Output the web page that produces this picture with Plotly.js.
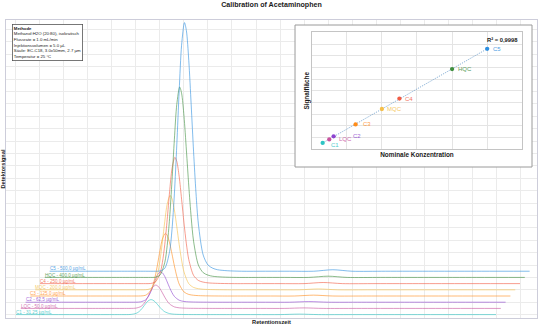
<!DOCTYPE html>
<html><head><meta charset="utf-8">
<script src="https://cdn.plot.ly/plotly-3.0.1.min.js"></script>
<style>html,body{margin:0;padding:0;background:#fff}#chart{width:539px;height:325px}</style>
</head><body><div id="chart"></div>
<script>
// ---------- data ----------
const levels = ['C1','LQC','C2','C3','MQC','C4','HQC','C5'];
const concentrations = [31.25, 50, 62.5, 125, 200, 250, 400, 500];   // µg/mL
const peakAreas = [131, 205, 272, 528, 858, 1082, 1715, 2150];       // signal area
const r2Label = 'R² = 0,9998';
const methodLines = ['Methanol:H2O (20:80), isokratisch','Flussrate = 1.0 mL/min','Injektionsvolumen = 5.0 µL','Säule: EC-C18, 3.0x50mm, 2.7 µm','Temperatur = 25 °C'];

const retentionTime = [0,0.5,1.0,1.5,2.0,2.2,2.3,2.4,2.5,2.55,2.6,2.65,2.7,2.75,2.81,2.85,2.9,2.95,3.0,3.05,3.1,3.2,3.3,3.4,3.5,3.7,4.0,4.5,5.0,5.5,5.9,6.3,7.0,8.0,9.0,10.0];
const sigC1  = [0,0,0,0,0,0,0.1,1.5,9.6,20.2,37.6,61.5,87.8,110.0,121,117.1,102.5,80.9,58.1,38.1,23.0,7.9,3.0,1.5,0.7,0.2,0,0,0,0,4,0,0,0,0,0];
const sigLQC = [0,0,0,0,0,0,0.2,2.3,14.9,31.4,58.5,95.5,136.5,170.9,188,182.0,159.2,125.8,90.2,59.2,35.7,12.2,4.7,2.3,1.1,0.4,0,0,0,0,4,0,0,0,0,0];
const sigC2  = [0,0,0,0,0,0,0.2,2.9,19.4,40.9,76.2,124.5,177.9,222.7,245,237.2,207.5,163.9,117.6,77.2,46.6,15.9,6.1,2.9,1.5,0.5,0,0,0,0,5,0,0,0,0,0];
const sigC3  = [0,0,0,0,0,0,0.5,6.1,40.0,84.5,157.4,257.0,367.4,460.0,506,489.8,428.6,338.5,242.9,159.4,96.1,32.9,12.7,6.1,3.0,1.0,0,0,0,0,7,0,0,0,0,0];
const sigMQC = [0,0,0,0,0,0,0.8,9.1,60.1,127.1,236.7,386.6,552.5,691.7,761,736.6,644.6,509.1,365.3,239.7,144.6,49.5,19.0,9.1,4.6,1.5,0,0,0,0,7,0,0,0,0,0];
const sigC4  = [0,0,0,0,0,0,1.0,12.2,80.5,170.2,316.9,517.7,739.8,926.3,1019,986.4,863.1,681.7,489.1,321.0,193.6,66.2,25.5,12.2,6.1,2.0,0,0,0,0,9,0,0,0,0,0];
const sigHQC = [0,0,0,0,0,0,1.5,18.4,121.3,256.5,477.7,780.3,1115.1,1396.2,1536,1486.8,1301.0,1027.6,737.3,483.8,291.8,99.8,38.4,18.4,9.2,3.1,0,0,0,0,10,0,0,0,0,0];
const sigC5  = [0,0,0,0,0,0,2.0,24.1,158.5,335.0,623.9,1019.0,1456.4,1823.5,2006,1941.8,1699.1,1342.0,962.9,631.9,381.1,130.4,50.2,24.1,12.0,4.0,0,0,0,0,12,0,0,0,0,0];
const signals = [sigC1, sigLQC, sigC2, sigC3, sigMQC, sigC4, sigHQC, sigC5];

// ---------- styles ----------
const colors = ['#2EC4C4','#C8539F','#8E44D0','#FF8C1A','#F5BF4A','#F25C45','#3F8F3F','#2E8FE0'];
const stepX = 0.1, stepY = 50;           // waterfall offsets
const labelShift = {C1:[7,-2], LQC:[9,0], C2:[18.5,0], C3:[6,0], MQC:[3.7,0], C4:[5,0], HQC:[4.7,0], C5:[5,0]};
const FONT = 'Liberation Sans, Arial, sans-serif';
const XR = [-0.208, 10.854], YR = [-27.4, 2377];
const insetBox = {x0:0.5443, x1:0.9906, y0:0.5067, y1:0.9832};   // fractions of main plot area

function fmtConc(c){ return (Number.isInteger(c) ? c.toFixed(1) : String(c)).replace('.', ','); }
function fx(f){ return XR[0] + f*(XR[1]-XR[0]); }
function fy(f){ return YR[0] + f*(YR[1]-YR[0]); }

const traces = [];
const annotations = [];
levels.forEach((lv, i) => {
  traces.push({
    type:'scatter', mode:'lines', xaxis:'x', yaxis:'y',
    x: retentionTime.map(t => t + i*stepX),
    y: signals[i].map(v => v + i*stepY),
    line:{color:colors[i], width:1, shape:'spline', smoothing:0.8},
    opacity:0.6, hoverinfo:'skip', showlegend:false
  });
  annotations.push({
    xref:'x', yref:'y', x: i*stepX, y: i*stepY, xanchor:'left', yanchor:'bottom',
    xshift:-1, yshift:-1.2, showarrow:false, borderpad:0,
    text: lv + ' - ' + fmtConc(concentrations[i]) + ' µg/mL',
    font:{family:FONT, size:4.6, color:colors[i]}, opacity:0.8
  });
});

// white background panel for the calibration inset (decoration on main axes)
traces.push({
  type:'scatter', mode:'lines', xaxis:'x', yaxis:'y', fill:'toself', fillcolor:'#ffffff',
  x:[fx(insetBox.x0), fx(insetBox.x1), fx(insetBox.x1), fx(insetBox.x0), fx(insetBox.x0)],
  y:[fy(insetBox.y0), fy(insetBox.y0), fy(insetBox.y1), fy(insetBox.y1), fy(insetBox.y0)],
  line:{color:'#9A9A9A', width:1}, hoverinfo:'skip', showlegend:false
});

// regression line
const n = concentrations.length;
const mx = concentrations.reduce((a,b)=>a+b,0)/n;
const my = peakAreas.reduce((a,b)=>a+b,0)/n;
let sxy=0, sxx=0;
for (let i=0;i<n;i++){ sxy += (concentrations[i]-mx)*(peakAreas[i]-my); sxx += (concentrations[i]-mx)**2; }
const slope = sxy/sxx, intercept = my - slope*mx;
const xmin = Math.min(...concentrations), xmax = Math.max(...concentrations);
traces.push({
  type:'scatter', mode:'lines', xaxis:'x2', yaxis:'y2',
  x:[xmin, xmax], y:[intercept+slope*xmin, intercept+slope*xmax],
  line:{color:'#6A9CCB', width:0.9, dash:'1px,1.2px'}, hoverinfo:'skip', showlegend:false
});
traces.push({
  type:'scatter', mode:'markers', xaxis:'x2', yaxis:'y2',
  x:concentrations, y:peakAreas,
  marker:{color:colors, size:4.3}, hoverinfo:'skip', showlegend:false
});
levels.forEach((lv, i) => {
  annotations.push({
    xref:'x2', yref:'y2', x:concentrations[i], y:peakAreas[i], xanchor:'left', yanchor:'middle',
    xshift:labelShift[lv][0], yshift:labelShift[lv][1], showarrow:false, borderpad:0,
    text: lv, font:{family:FONT, size:6, color:colors[i]}, opacity:0.85
  });
});
annotations.push({
  xref:'x2', yref:'y2', x:593, y:2340, xanchor:'right', yanchor:'middle', showarrow:false,
  text:'<b>' + r2Label + '</b>', font:{family:FONT, size:5.8, color:'#1a1a1a'}
});
annotations.push({
  xref:'paper', yref:'paper', x:0.0107, y:0.9856, xanchor:'left', yanchor:'top', align:'left',
  showarrow:false, bgcolor:'#ffffff', bordercolor:'#555555', borderwidth:0.8, borderpad:1,
  text:'<b>Methode</b><br>' + methodLines.join('<br>'),
  font:{family:FONT, size:4.3, color:'#222222'}
});

const gridMain = '#EBEBEB';
const layout = {
  width:539, height:325,
  margin:{l:6, r:2, t:20, b:7},
  paper_bgcolor:'#ffffff', plot_bgcolor:'#ffffff',
  font:{family:FONT, color:'#222222'},
  showlegend:false,
  title:{text:'<b>Calibration of Acetaminophen</b>', font:{family:FONT, size:7.1, color:'#1a1a1a'},
         x:0.5, xref:'paper', y:1-4.5/325, yref:'container', yanchor:'middle'},
  xaxis:{range:XR, tick0:0, dtick:0.5, showgrid:true, gridcolor:gridMain, gridwidth:1,
         showticklabels:false, ticks:'', zeroline:false, showline:true, mirror:true,
         linecolor:'#CDCDDA', linewidth:1, automargin:false,
         title:{text:'<b>Retentionszeit</b>', font:{family:FONT, size:5.7, color:'#1a1a1a'}, standoff:2.5}},
  yaxis:{range:YR, tick0:0, dtick:100, showgrid:true, gridcolor:gridMain, gridwidth:1,
         showticklabels:false, ticks:'', zeroline:false, showline:true, mirror:true,
         linecolor:'#CDCDDA', linewidth:1, automargin:false,
         title:{text:'<b>Detektorsignal</b>', font:{family:FONT, size:5.6, color:'#1a1a1a'}, standoff:1}},
  xaxis2:{domain:[0.5757,0.9723], anchor:'y2', range:[0,600], tick0:0, dtick:100,
          showgrid:true, gridcolor:'#E4E4E4', gridwidth:1, showticklabels:false, ticks:'',
          zeroline:false, showline:true, mirror:true, linecolor:'#C4C4C4', linewidth:1, automargin:false,
          title:{text:'<b>Nominale Konzentration</b>', font:{family:FONT, size:6.4, color:'#1a1a1a'}, standoff:3.5}},
  yaxis2:{domain:[0.5671,0.9581], anchor:'x2', range:[0,2500], tick0:0, dtick:250,
          showgrid:true, gridcolor:'#E4E4E4', gridwidth:1, showticklabels:false, ticks:'',
          zeroline:false, showline:true, mirror:true, linecolor:'#C4C4C4', linewidth:1, automargin:false,
          title:{text:'<b>Signalfläche</b>', font:{family:FONT, size:6.4, color:'#1a1a1a'}, standoff:0}},
  annotations: annotations
};

Plotly.newPlot('chart', traces, layout, {displayModeBar:false, staticPlot:true});
</script>
</body></html>
